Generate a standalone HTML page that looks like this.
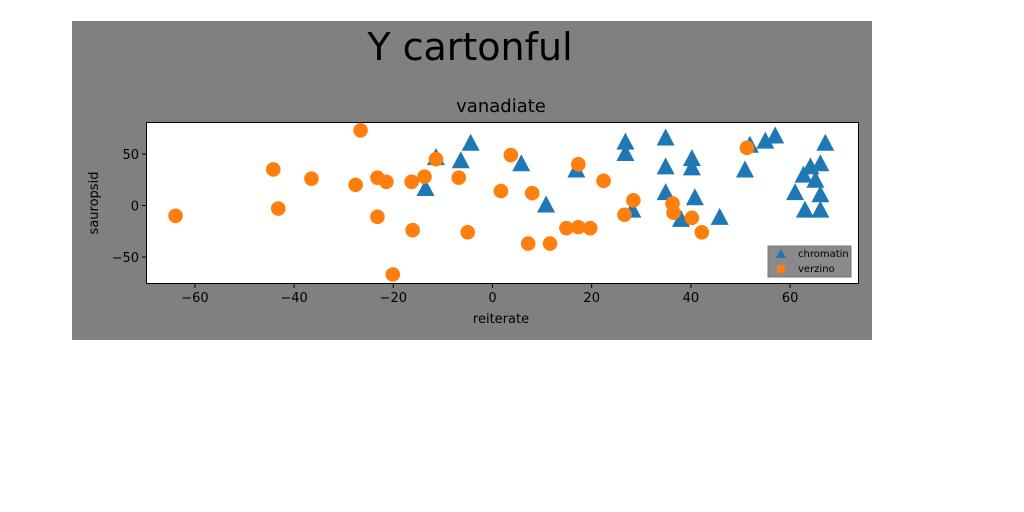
<!DOCTYPE html>
<html><head><meta charset="utf-8"><style>
html,body{margin:0;padding:0;background:#fff;width:1024px;height:512px;overflow:hidden}
svg{display:block}
text{font-family:"DejaVu Sans","Liberation Sans",sans-serif}
</style></head><body>
<svg id="chart" width="1024" height="512">
<rect x="72" y="21" width="800" height="319" fill="#808080"/>
<text x="470" y="60" font-size="38" text-anchor="middle" style="font-family:'Comic Sans MS','DejaVu Sans',sans-serif" fill="#000">Y cartonful</text>
<text x="501" y="112" font-size="18" text-anchor="middle" fill="#000">vanadiate</text>
<rect x="146.5" y="122.5" width="712" height="161" fill="#fff" stroke="#000" stroke-width="1"/>
<g id="ticks"></g>
<g id="marks"></g>
<text x="501" y="323" font-size="13" text-anchor="middle">reiterate</text>
<text x="0" y="0" font-size="13" text-anchor="middle" transform="translate(98,203) rotate(-90)">sauropsid</text>
<g>
<rect x="768" y="246" width="83" height="31" fill="#8a8a8a" stroke="#777"/>
<polygon points="781,249 776,258 786,258" fill="#1f77b4"/>
<text x="798" y="257" font-size="10">chromatin</text>
<circle cx="781" cy="269" r="4.5" fill="#ff7f0e"/>
<text x="798" y="272" font-size="10">verzino</text>
</g>
</svg>
<script>
const xTicks=[-60,-40,-20,0,20,40,60];
const yTicks=[-50,0,50];
const chromatinX=[5.8,10.8,16.9,26.8,26.8,34.9,34.9,34.9,40.2,40.2,40.8,38,45.8,51.9,50.9,55,57,67.1,64.1,66.1,62.7,65.1,61,66.1,63,66.1,-11.4,-6.4,-4.4,-13.5,28.2];
const chromatinY=[40,0,34,61,50,65,37,12,45,36,7,-14,-12,58,34,62,67,60,37,40,29,24,12,10,-5,-5,46,43,60,16,-5];
const verzinoX=[-63.9,-44.2,-43.2,-36.5,-26.6,-27.6,-23.2,-21.4,-23.2,-16.3,-13.7,-11.4,-6.8,-16.1,-5,-20.1,1.7,3.7,8,17.3,22.4,28.4,26.6,36.3,36.5,40.2,42.2,14.9,17.3,19.7,7.2,11.6,51.3];
const verzinoY=[-10,35,-3,26,73,20,27,23,-11,23,28,45,27,-24,-26,-67,14,49,12,40,24,5,-9,2,-7,-12,-26,-22,-21,-22,-37,-37,56];
const NS='http://www.w3.org/2000/svg';
const sx=v=>492.5+v*4.96;
const sy=v=>205.5-v*1.03;
const tg=document.getElementById('ticks'),mg=document.getElementById('marks');
function mk(t,a,p){const e=document.createElementNS(NS,t);for(const k in a)e.setAttribute(k,a[k]);p.appendChild(e);return e;}
xTicks.forEach(v=>{
  const l=mk('line',{x1:sx(v),x2:sx(v),y1:284,y2:288,stroke:'#000'},tg);
  
  
  const t=mk('text',{x:sx(v),y:302,'font-size':13,'text-anchor':'middle'},tg);t.textContent=v<0?'\u2212'+(-v):v;
  
  
});
yTicks.forEach(v=>{
  const l=mk('line',{x1:142,x2:146,y1:sy(v),y2:sy(v),stroke:'#000'},tg);
  
  
  const t=mk('text',{x:139,y:sy(v)+5,'font-size':13,'text-anchor':'end'},tg);t.textContent=v<0?'\u2212'+(-v):v;
  
  
});
chromatinX.forEach((v,i)=>{
  const x=sx(v),y=sy(chromatinY[i]);
  const p=mk('polygon',{points:`${x},${y-10} ${x-9},${y+7} ${x+9},${y+7}`,fill:'#1f77b4'},mg);
  
  
});
verzinoX.forEach((v,i)=>{
  const c=mk('circle',{cx:sx(v),cy:sy(verzinoY[i]),r:7.3,fill:'#ff7f0e'},mg);
  
  
});
</script>
</body></html>
